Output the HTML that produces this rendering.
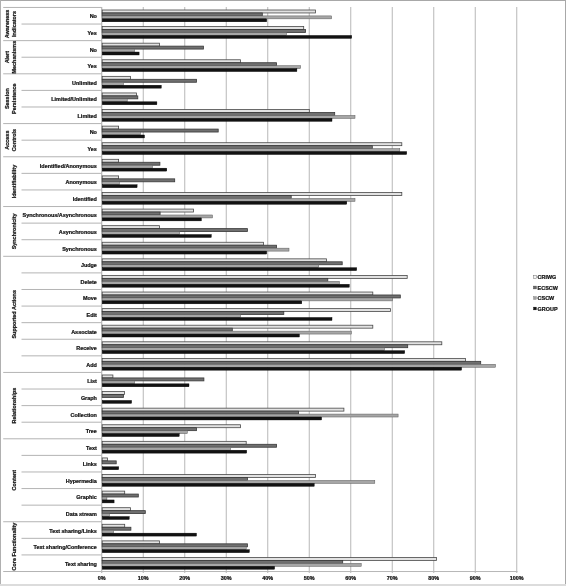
<!DOCTYPE html>
<html><head><meta charset="utf-8"><title>Chart</title>
<style>html,body{margin:0;padding:0;background:#fff;width:566px;height:586px;overflow:hidden}svg{display:block}</style>
</head><body>
<svg width="566" height="586" viewBox="0 0 566 586">
<rect width="566" height="586" fill="#fff"/>
<rect x="0" y="0" width="566" height="1" fill="#a8a8a8"/>
<rect x="0" y="0" width="1" height="586" fill="#b0b0b0"/>
<rect x="565" y="0" width="1" height="586" fill="#a8a8a8"/>
<rect x="0" y="584" width="566" height="2" fill="#dcdcdc"/>
<rect x="142.75" y="7" width="1" height="566" fill="#b8b8b8"/>
<rect x="184.25" y="7" width="1" height="566" fill="#b8b8b8"/>
<rect x="225.75" y="7" width="1" height="566" fill="#b8b8b8"/>
<rect x="267.25" y="7" width="1" height="566" fill="#b8b8b8"/>
<rect x="308.75" y="7" width="1" height="566" fill="#b8b8b8"/>
<rect x="350.25" y="7" width="1" height="566" fill="#b8b8b8"/>
<rect x="391.75" y="7" width="1" height="566" fill="#b8b8b8"/>
<rect x="433.25" y="7" width="1" height="566" fill="#b8b8b8"/>
<rect x="474.75" y="7" width="1" height="566" fill="#b8b8b8"/>
<rect x="516.25" y="7" width="1" height="566" fill="#b8b8b8"/>
<rect x="101.25" y="7" width="1" height="566" fill="#a8a8a8"/>
<rect x="3.2" y="6.95" width="98.3" height="1" fill="#b4b4b4"/>
<rect x="21.5" y="23.54" width="80" height="1" fill="#b4b4b4"/>
<rect x="3.2" y="40.13" width="98.3" height="1" fill="#b4b4b4"/>
<rect x="21.5" y="56.72" width="80" height="1" fill="#b4b4b4"/>
<rect x="3.2" y="73.31" width="98.3" height="1" fill="#b4b4b4"/>
<rect x="21.5" y="89.9" width="80" height="1" fill="#b4b4b4"/>
<rect x="21.5" y="106.49" width="80" height="1" fill="#b4b4b4"/>
<rect x="3.2" y="123.08" width="98.3" height="1" fill="#b4b4b4"/>
<rect x="21.5" y="139.67" width="80" height="1" fill="#b4b4b4"/>
<rect x="3.2" y="156.26" width="98.3" height="1" fill="#b4b4b4"/>
<rect x="21.5" y="172.85" width="80" height="1" fill="#b4b4b4"/>
<rect x="21.5" y="189.44" width="80" height="1" fill="#b4b4b4"/>
<rect x="3.2" y="206.03" width="98.3" height="1" fill="#b4b4b4"/>
<rect x="21.5" y="222.62" width="80" height="1" fill="#b4b4b4"/>
<rect x="21.5" y="239.21" width="80" height="1" fill="#b4b4b4"/>
<rect x="3.2" y="255.8" width="98.3" height="1" fill="#b4b4b4"/>
<rect x="21.5" y="272.39" width="80" height="1" fill="#b4b4b4"/>
<rect x="21.5" y="288.98" width="80" height="1" fill="#b4b4b4"/>
<rect x="21.5" y="305.57" width="80" height="1" fill="#b4b4b4"/>
<rect x="21.5" y="322.16" width="80" height="1" fill="#b4b4b4"/>
<rect x="21.5" y="338.75" width="80" height="1" fill="#b4b4b4"/>
<rect x="21.5" y="355.34" width="80" height="1" fill="#b4b4b4"/>
<rect x="3.2" y="371.93" width="98.3" height="1" fill="#b4b4b4"/>
<rect x="21.5" y="388.52" width="80" height="1" fill="#b4b4b4"/>
<rect x="21.5" y="405.11" width="80" height="1" fill="#b4b4b4"/>
<rect x="21.5" y="421.7" width="80" height="1" fill="#b4b4b4"/>
<rect x="3.2" y="438.29" width="98.3" height="1" fill="#b4b4b4"/>
<rect x="21.5" y="454.88" width="80" height="1" fill="#b4b4b4"/>
<rect x="21.5" y="471.47" width="80" height="1" fill="#b4b4b4"/>
<rect x="21.5" y="488.06" width="80" height="1" fill="#b4b4b4"/>
<rect x="21.5" y="504.65" width="80" height="1" fill="#b4b4b4"/>
<rect x="3.2" y="521.24" width="98.3" height="1" fill="#b4b4b4"/>
<rect x="21.5" y="537.83" width="80" height="1" fill="#b4b4b4"/>
<rect x="21.5" y="554.42" width="80" height="1" fill="#b4b4b4"/>
<rect x="3.2" y="571.01" width="98.3" height="1" fill="#b4b4b4"/>
<rect x="101" y="571.01" width="416.5" height="1" fill="#b8b8b8"/>
<rect x="102.2" y="10" width="213.3" height="2.95" fill="#e2e2e2" stroke="#484848" stroke-width="0.8"/>
<rect x="102.2" y="12.95" width="160.1" height="2.95" fill="#707070" stroke="#383838" stroke-width="0.8"/>
<rect x="102.2" y="15.9" width="229.4" height="2.95" fill="#a6a6a6" stroke="#5a5a5a" stroke-width="0.5"/>
<rect x="102.2" y="18.85" width="164.5" height="2.95" fill="#121212" stroke="#000" stroke-width="0.4"/>
<rect x="102.2" y="26.59" width="201.5" height="2.95" fill="#e2e2e2" stroke="#484848" stroke-width="0.8"/>
<rect x="102.2" y="29.54" width="203.4" height="2.95" fill="#707070" stroke="#383838" stroke-width="0.8"/>
<rect x="102.2" y="32.49" width="184.3" height="2.95" fill="#a6a6a6" stroke="#5a5a5a" stroke-width="0.5"/>
<rect x="102.2" y="35.44" width="249.5" height="2.95" fill="#121212" stroke="#000" stroke-width="0.4"/>
<rect x="102.2" y="43.18" width="57.2" height="2.95" fill="#e2e2e2" stroke="#484848" stroke-width="0.8"/>
<rect x="102.2" y="46.13" width="101.2" height="2.95" fill="#707070" stroke="#383838" stroke-width="0.8"/>
<rect x="102.2" y="49.08" width="32.4" height="2.95" fill="#a6a6a6" stroke="#5a5a5a" stroke-width="0.5"/>
<rect x="102.2" y="52.03" width="36.9" height="2.95" fill="#121212" stroke="#000" stroke-width="0.4"/>
<rect x="102.2" y="59.77" width="138.3" height="2.95" fill="#e2e2e2" stroke="#484848" stroke-width="0.8"/>
<rect x="102.2" y="62.72" width="174.4" height="2.95" fill="#707070" stroke="#383838" stroke-width="0.8"/>
<rect x="102.2" y="65.67" width="198.4" height="2.95" fill="#a6a6a6" stroke="#5a5a5a" stroke-width="0.5"/>
<rect x="102.2" y="68.62" width="194.7" height="2.95" fill="#121212" stroke="#000" stroke-width="0.4"/>
<rect x="102.2" y="76.36" width="28.2" height="2.95" fill="#e2e2e2" stroke="#484848" stroke-width="0.8"/>
<rect x="102.2" y="79.31" width="94.3" height="2.95" fill="#707070" stroke="#383838" stroke-width="0.8"/>
<rect x="102.2" y="82.26" width="21.3" height="2.95" fill="#a6a6a6" stroke="#5a5a5a" stroke-width="0.5"/>
<rect x="102.2" y="85.21" width="59.1" height="2.95" fill="#121212" stroke="#000" stroke-width="0.4"/>
<rect x="102.2" y="92.95" width="34.2" height="2.95" fill="#e2e2e2" stroke="#484848" stroke-width="0.8"/>
<rect x="102.2" y="95.9" width="35.6" height="2.95" fill="#707070" stroke="#383838" stroke-width="0.8"/>
<rect x="102.2" y="98.85" width="25" height="2.95" fill="#a6a6a6" stroke="#5a5a5a" stroke-width="0.5"/>
<rect x="102.2" y="101.8" width="54.7" height="2.95" fill="#121212" stroke="#000" stroke-width="0.4"/>
<rect x="102.2" y="109.54" width="207.1" height="2.95" fill="#e2e2e2" stroke="#484848" stroke-width="0.8"/>
<rect x="102.2" y="112.49" width="232.5" height="2.95" fill="#707070" stroke="#383838" stroke-width="0.8"/>
<rect x="102.2" y="115.44" width="252.8" height="2.95" fill="#a6a6a6" stroke="#5a5a5a" stroke-width="0.5"/>
<rect x="102.2" y="118.39" width="229.8" height="2.95" fill="#121212" stroke="#000" stroke-width="0.4"/>
<rect x="102.2" y="126.13" width="16.4" height="2.95" fill="#e2e2e2" stroke="#484848" stroke-width="0.8"/>
<rect x="102.2" y="129.08" width="116" height="2.95" fill="#707070" stroke="#383838" stroke-width="0.8"/>
<rect x="102.2" y="132.03" width="38.1" height="2.95" fill="#a6a6a6" stroke="#5a5a5a" stroke-width="0.5"/>
<rect x="102.2" y="134.98" width="42.3" height="2.95" fill="#121212" stroke="#000" stroke-width="0.4"/>
<rect x="102.2" y="142.72" width="299.6" height="2.95" fill="#e2e2e2" stroke="#484848" stroke-width="0.8"/>
<rect x="102.2" y="145.67" width="270.1" height="2.95" fill="#707070" stroke="#383838" stroke-width="0.8"/>
<rect x="102.2" y="148.62" width="297.6" height="2.95" fill="#a6a6a6" stroke="#5a5a5a" stroke-width="0.5"/>
<rect x="102.2" y="151.57" width="304.5" height="2.95" fill="#121212" stroke="#000" stroke-width="0.4"/>
<rect x="102.2" y="159.31" width="16.4" height="2.95" fill="#e2e2e2" stroke="#484848" stroke-width="0.8"/>
<rect x="102.2" y="162.26" width="57.7" height="2.95" fill="#707070" stroke="#383838" stroke-width="0.8"/>
<rect x="102.2" y="165.21" width="50.2" height="2.95" fill="#a6a6a6" stroke="#5a5a5a" stroke-width="0.5"/>
<rect x="102.2" y="168.16" width="64.6" height="2.95" fill="#121212" stroke="#000" stroke-width="0.4"/>
<rect x="102.2" y="175.9" width="16.4" height="2.95" fill="#e2e2e2" stroke="#484848" stroke-width="0.8"/>
<rect x="102.2" y="178.85" width="72.5" height="2.95" fill="#707070" stroke="#383838" stroke-width="0.8"/>
<rect x="102.2" y="181.8" width="17.1" height="2.95" fill="#a6a6a6" stroke="#5a5a5a" stroke-width="0.5"/>
<rect x="102.2" y="184.75" width="34.9" height="2.95" fill="#121212" stroke="#000" stroke-width="0.4"/>
<rect x="102.2" y="192.49" width="299.6" height="2.95" fill="#e2e2e2" stroke="#484848" stroke-width="0.8"/>
<rect x="102.2" y="195.44" width="189" height="2.95" fill="#707070" stroke="#383838" stroke-width="0.8"/>
<rect x="102.2" y="198.39" width="252.8" height="2.95" fill="#a6a6a6" stroke="#5a5a5a" stroke-width="0.5"/>
<rect x="102.2" y="201.34" width="244.6" height="2.95" fill="#121212" stroke="#000" stroke-width="0.4"/>
<rect x="102.2" y="209.08" width="91.3" height="2.95" fill="#e2e2e2" stroke="#484848" stroke-width="0.8"/>
<rect x="102.2" y="212.03" width="57.9" height="2.95" fill="#707070" stroke="#383838" stroke-width="0.8"/>
<rect x="102.2" y="214.98" width="110.3" height="2.95" fill="#a6a6a6" stroke="#5a5a5a" stroke-width="0.5"/>
<rect x="102.2" y="217.93" width="99.2" height="2.95" fill="#121212" stroke="#000" stroke-width="0.4"/>
<rect x="102.2" y="225.67" width="57.2" height="2.95" fill="#e2e2e2" stroke="#484848" stroke-width="0.8"/>
<rect x="102.2" y="228.62" width="145.2" height="2.95" fill="#707070" stroke="#383838" stroke-width="0.8"/>
<rect x="102.2" y="231.57" width="77.4" height="2.95" fill="#a6a6a6" stroke="#5a5a5a" stroke-width="0.5"/>
<rect x="102.2" y="234.52" width="109.1" height="2.95" fill="#121212" stroke="#000" stroke-width="0.4"/>
<rect x="102.2" y="242.26" width="161.3" height="2.95" fill="#e2e2e2" stroke="#484848" stroke-width="0.8"/>
<rect x="102.2" y="245.21" width="174.4" height="2.95" fill="#707070" stroke="#383838" stroke-width="0.8"/>
<rect x="102.2" y="248.16" width="186.8" height="2.95" fill="#a6a6a6" stroke="#5a5a5a" stroke-width="0.5"/>
<rect x="102.2" y="251.11" width="164.5" height="2.95" fill="#121212" stroke="#000" stroke-width="0.4"/>
<rect x="102.2" y="258.85" width="224.4" height="2.95" fill="#e2e2e2" stroke="#484848" stroke-width="0.8"/>
<rect x="102.2" y="261.8" width="240" height="2.95" fill="#707070" stroke="#383838" stroke-width="0.8"/>
<rect x="102.2" y="264.75" width="216.5" height="2.95" fill="#a6a6a6" stroke="#5a5a5a" stroke-width="0.5"/>
<rect x="102.2" y="267.7" width="254.5" height="2.95" fill="#121212" stroke="#000" stroke-width="0.4"/>
<rect x="102.2" y="275.44" width="305" height="2.95" fill="#e2e2e2" stroke="#484848" stroke-width="0.8"/>
<rect x="102.2" y="278.39" width="225.6" height="2.95" fill="#707070" stroke="#383838" stroke-width="0.8"/>
<rect x="102.2" y="281.34" width="237.2" height="2.95" fill="#a6a6a6" stroke="#5a5a5a" stroke-width="0.5"/>
<rect x="102.2" y="284.29" width="247.1" height="2.95" fill="#121212" stroke="#000" stroke-width="0.4"/>
<rect x="102.2" y="292.03" width="270.6" height="2.95" fill="#e2e2e2" stroke="#484848" stroke-width="0.8"/>
<rect x="102.2" y="294.98" width="298.1" height="2.95" fill="#707070" stroke="#383838" stroke-width="0.8"/>
<rect x="102.2" y="297.93" width="290.2" height="2.95" fill="#a6a6a6" stroke="#5a5a5a" stroke-width="0.5"/>
<rect x="102.2" y="300.88" width="199.6" height="2.95" fill="#121212" stroke="#000" stroke-width="0.4"/>
<rect x="102.2" y="308.62" width="288.2" height="2.95" fill="#e2e2e2" stroke="#484848" stroke-width="0.8"/>
<rect x="102.2" y="311.57" width="181.6" height="2.95" fill="#707070" stroke="#383838" stroke-width="0.8"/>
<rect x="102.2" y="314.52" width="138.3" height="2.95" fill="#a6a6a6" stroke="#5a5a5a" stroke-width="0.5"/>
<rect x="102.2" y="317.47" width="229.8" height="2.95" fill="#121212" stroke="#000" stroke-width="0.4"/>
<rect x="102.2" y="325.21" width="270.6" height="2.95" fill="#e2e2e2" stroke="#484848" stroke-width="0.8"/>
<rect x="102.2" y="328.16" width="130.1" height="2.95" fill="#707070" stroke="#383838" stroke-width="0.8"/>
<rect x="102.2" y="331.11" width="249.1" height="2.95" fill="#a6a6a6" stroke="#5a5a5a" stroke-width="0.5"/>
<rect x="102.2" y="334.06" width="197.2" height="2.95" fill="#121212" stroke="#000" stroke-width="0.4"/>
<rect x="102.2" y="341.8" width="339.6" height="2.95" fill="#e2e2e2" stroke="#484848" stroke-width="0.8"/>
<rect x="102.2" y="344.75" width="305.5" height="2.95" fill="#707070" stroke="#383838" stroke-width="0.8"/>
<rect x="102.2" y="347.7" width="282.3" height="2.95" fill="#a6a6a6" stroke="#5a5a5a" stroke-width="0.5"/>
<rect x="102.2" y="350.65" width="302.5" height="2.95" fill="#121212" stroke="#000" stroke-width="0.4"/>
<rect x="102.2" y="358.39" width="363.2" height="2.95" fill="#e2e2e2" stroke="#484848" stroke-width="0.8"/>
<rect x="102.2" y="361.34" width="378.5" height="2.95" fill="#707070" stroke="#383838" stroke-width="0.8"/>
<rect x="102.2" y="364.29" width="393.3" height="2.95" fill="#a6a6a6" stroke="#5a5a5a" stroke-width="0.5"/>
<rect x="102.2" y="367.24" width="359.4" height="2.95" fill="#121212" stroke="#000" stroke-width="0.4"/>
<rect x="102.2" y="374.98" width="10.7" height="2.95" fill="#e2e2e2" stroke="#484848" stroke-width="0.8"/>
<rect x="102.2" y="377.93" width="101.7" height="2.95" fill="#707070" stroke="#383838" stroke-width="0.8"/>
<rect x="102.2" y="380.88" width="32.4" height="2.95" fill="#a6a6a6" stroke="#5a5a5a" stroke-width="0.5"/>
<rect x="102.2" y="383.83" width="86.8" height="2.95" fill="#121212" stroke="#000" stroke-width="0.4"/>
<rect x="102.2" y="391.57" width="22.2" height="2.95" fill="#e2e2e2" stroke="#484848" stroke-width="0.8"/>
<rect x="102.2" y="394.52" width="21.3" height="2.95" fill="#707070" stroke="#383838" stroke-width="0.8"/>
<rect x="102.2" y="400.42" width="29.4" height="2.95" fill="#121212" stroke="#000" stroke-width="0.4"/>
<rect x="102.2" y="408.16" width="241.7" height="2.95" fill="#e2e2e2" stroke="#484848" stroke-width="0.8"/>
<rect x="102.2" y="411.11" width="196.4" height="2.95" fill="#707070" stroke="#383838" stroke-width="0.8"/>
<rect x="102.2" y="414.06" width="295.9" height="2.95" fill="#a6a6a6" stroke="#5a5a5a" stroke-width="0.5"/>
<rect x="102.2" y="417.01" width="219.4" height="2.95" fill="#121212" stroke="#000" stroke-width="0.4"/>
<rect x="102.2" y="424.75" width="138.3" height="2.95" fill="#e2e2e2" stroke="#484848" stroke-width="0.8"/>
<rect x="102.2" y="427.7" width="94.3" height="2.95" fill="#707070" stroke="#383838" stroke-width="0.8"/>
<rect x="102.2" y="430.65" width="85.1" height="2.95" fill="#a6a6a6" stroke="#5a5a5a" stroke-width="0.5"/>
<rect x="102.2" y="433.6" width="77" height="2.95" fill="#121212" stroke="#000" stroke-width="0.4"/>
<rect x="102.2" y="441.34" width="144" height="2.95" fill="#e2e2e2" stroke="#484848" stroke-width="0.8"/>
<rect x="102.2" y="444.29" width="174.4" height="2.95" fill="#707070" stroke="#383838" stroke-width="0.8"/>
<rect x="102.2" y="447.24" width="128.4" height="2.95" fill="#a6a6a6" stroke="#5a5a5a" stroke-width="0.5"/>
<rect x="102.2" y="450.19" width="144.5" height="2.95" fill="#121212" stroke="#000" stroke-width="0.4"/>
<rect x="102.2" y="457.93" width="5.2" height="2.95" fill="#e2e2e2" stroke="#484848" stroke-width="0.8"/>
<rect x="102.2" y="460.88" width="14" height="2.95" fill="#707070" stroke="#383838" stroke-width="0.8"/>
<rect x="102.2" y="466.78" width="16.5" height="2.95" fill="#121212" stroke="#000" stroke-width="0.4"/>
<rect x="102.2" y="474.52" width="213.2" height="2.95" fill="#e2e2e2" stroke="#484848" stroke-width="0.8"/>
<rect x="102.2" y="477.47" width="145.2" height="2.95" fill="#707070" stroke="#383838" stroke-width="0.8"/>
<rect x="102.2" y="480.42" width="272.6" height="2.95" fill="#a6a6a6" stroke="#5a5a5a" stroke-width="0.5"/>
<rect x="102.2" y="483.37" width="212" height="2.95" fill="#121212" stroke="#000" stroke-width="0.4"/>
<rect x="102.2" y="491.11" width="22.5" height="2.95" fill="#e2e2e2" stroke="#484848" stroke-width="0.8"/>
<rect x="102.2" y="494.06" width="36.1" height="2.95" fill="#707070" stroke="#383838" stroke-width="0.8"/>
<rect x="102.2" y="497.01" width="4.7" height="2.95" fill="#a6a6a6" stroke="#5a5a5a" stroke-width="0.5"/>
<rect x="102.2" y="499.96" width="11.9" height="2.95" fill="#121212" stroke="#000" stroke-width="0.4"/>
<rect x="102.2" y="507.7" width="28.2" height="2.95" fill="#e2e2e2" stroke="#484848" stroke-width="0.8"/>
<rect x="102.2" y="510.65" width="43.1" height="2.95" fill="#707070" stroke="#383838" stroke-width="0.8"/>
<rect x="102.2" y="513.6" width="7.2" height="2.95" fill="#a6a6a6" stroke="#5a5a5a" stroke-width="0.5"/>
<rect x="102.2" y="516.55" width="27" height="2.95" fill="#121212" stroke="#000" stroke-width="0.4"/>
<rect x="102.2" y="524.29" width="22.5" height="2.95" fill="#e2e2e2" stroke="#484848" stroke-width="0.8"/>
<rect x="102.2" y="527.24" width="28.7" height="2.95" fill="#707070" stroke="#383838" stroke-width="0.8"/>
<rect x="102.2" y="530.19" width="11.4" height="2.95" fill="#a6a6a6" stroke="#5a5a5a" stroke-width="0.5"/>
<rect x="102.2" y="533.14" width="94.3" height="2.95" fill="#121212" stroke="#000" stroke-width="0.4"/>
<rect x="102.2" y="540.88" width="57.2" height="2.95" fill="#e2e2e2" stroke="#484848" stroke-width="0.8"/>
<rect x="102.2" y="543.83" width="145.2" height="2.95" fill="#707070" stroke="#383838" stroke-width="0.8"/>
<rect x="102.2" y="546.78" width="144" height="2.95" fill="#a6a6a6" stroke="#5a5a5a" stroke-width="0.5"/>
<rect x="102.2" y="549.73" width="147.2" height="2.95" fill="#121212" stroke="#000" stroke-width="0.4"/>
<rect x="102.2" y="557.47" width="334.2" height="2.95" fill="#e2e2e2" stroke="#484848" stroke-width="0.8"/>
<rect x="102.2" y="560.42" width="240.5" height="2.95" fill="#707070" stroke="#383838" stroke-width="0.8"/>
<rect x="102.2" y="563.37" width="259" height="2.95" fill="#a6a6a6" stroke="#5a5a5a" stroke-width="0.5"/>
<rect x="102.2" y="566.32" width="172.4" height="2.95" fill="#121212" stroke="#000" stroke-width="0.4"/>
<g font-family="Liberation Sans, Arial, sans-serif" font-weight="bold" font-size="5.45" fill="#151515" stroke="#151515" stroke-width="0.24">
<text x="96.9" y="18.34" text-anchor="end">No</text>
<text x="96.9" y="34.94" text-anchor="end">Yes</text>
<text x="96.9" y="51.52" text-anchor="end">No</text>
<text x="96.9" y="68.11" text-anchor="end">Yes</text>
<text x="96.9" y="84.71" text-anchor="end">Unlimited</text>
<text x="96.9" y="101.3" text-anchor="end">Limited/Unlimited</text>
<text x="96.9" y="117.89" text-anchor="end">Limited</text>
<text x="96.9" y="134.47" text-anchor="end">No</text>
<text x="96.9" y="151.06" text-anchor="end">Yes</text>
<text x="96.9" y="167.66" text-anchor="end">Identified/Anonymous</text>
<text x="96.9" y="184.25" text-anchor="end">Anonymous</text>
<text x="96.9" y="200.84" text-anchor="end">Identified</text>
<text x="96.9" y="217.42" text-anchor="end">Synchronous/Asynchronous</text>
<text x="96.9" y="234.01" text-anchor="end">Asynchronous</text>
<text x="96.9" y="250.6" text-anchor="end">Synchronous</text>
<text x="96.9" y="267.19" text-anchor="end">Judge</text>
<text x="96.9" y="283.78" text-anchor="end">Delete</text>
<text x="96.9" y="300.37" text-anchor="end">Move</text>
<text x="96.9" y="316.96" text-anchor="end">Edit</text>
<text x="96.9" y="333.55" text-anchor="end">Associate</text>
<text x="96.9" y="350.14" text-anchor="end">Receive</text>
<text x="96.9" y="366.73" text-anchor="end">Add</text>
<text x="96.9" y="383.32" text-anchor="end">List</text>
<text x="96.9" y="399.91" text-anchor="end">Graph</text>
<text x="96.9" y="416.5" text-anchor="end">Collection</text>
<text x="96.9" y="433.09" text-anchor="end">Tree</text>
<text x="96.9" y="449.68" text-anchor="end">Text</text>
<text x="96.9" y="466.27" text-anchor="end">Links</text>
<text x="96.9" y="482.86" text-anchor="end">Hypermedia</text>
<text x="96.9" y="499.45" text-anchor="end">Graphic</text>
<text x="96.9" y="516.04" text-anchor="end">Data stream</text>
<text x="96.9" y="532.63" text-anchor="end">Text sharing/Links</text>
<text x="96.9" y="549.22" text-anchor="end">Text sharing/Conference</text>
<text x="96.9" y="565.81" text-anchor="end">Text sharing</text>
<text x="9.4" y="23.99" text-anchor="middle" transform="rotate(-90 9.4 23.99)">Awareness</text>
<text x="15.85" y="23.99" text-anchor="middle" transform="rotate(-90 15.85 23.99)">Indicators</text>
<text x="9.4" y="57.17" text-anchor="middle" transform="rotate(-90 9.4 57.17)">Alert</text>
<text x="15.85" y="57.17" text-anchor="middle" transform="rotate(-90 15.85 57.17)">Mechanisms</text>
<text x="9.4" y="98.65" text-anchor="middle" transform="rotate(-90 9.4 98.65)">Session</text>
<text x="15.85" y="98.65" text-anchor="middle" transform="rotate(-90 15.85 98.65)">Persistence</text>
<text x="9.4" y="140.12" text-anchor="middle" transform="rotate(-90 9.4 140.12)">Access</text>
<text x="15.85" y="140.12" text-anchor="middle" transform="rotate(-90 15.85 140.12)">Controls</text>
<text x="15.9" y="181.59" text-anchor="middle" transform="rotate(-90 15.9 181.59)">Identifiability</text>
<text x="15.9" y="231.37" text-anchor="middle" transform="rotate(-90 15.9 231.37)">Synchronicity</text>
<text x="15.9" y="314.31" text-anchor="middle" transform="rotate(-90 15.9 314.31)">Supported Actions</text>
<text x="15.9" y="405.56" text-anchor="middle" transform="rotate(-90 15.9 405.56)">Relationships</text>
<text x="15.9" y="480.21" text-anchor="middle" transform="rotate(-90 15.9 480.21)">Content</text>
<text x="15.9" y="546.57" text-anchor="middle" transform="rotate(-90 15.9 546.57)">Core Functionality</text>
<text x="101.75" y="580" text-anchor="middle">0%</text>
<text x="143.25" y="580" text-anchor="middle">10%</text>
<text x="184.75" y="580" text-anchor="middle">20%</text>
<text x="226.25" y="580" text-anchor="middle">30%</text>
<text x="267.75" y="580" text-anchor="middle">40%</text>
<text x="309.25" y="580" text-anchor="middle">50%</text>
<text x="350.75" y="580" text-anchor="middle">60%</text>
<text x="392.25" y="580" text-anchor="middle">70%</text>
<text x="433.75" y="580" text-anchor="middle">80%</text>
<text x="475.25" y="580" text-anchor="middle">90%</text>
<text x="516.75" y="580" text-anchor="middle">100%</text>
<rect x="533.6" y="275.65" width="2.7" height="2.7" fill="#f4f4f4" stroke="#707070" stroke-width="0.5"/>
<text x="537.6" y="279.4">CRIWG</text>
<rect x="533.6" y="286.15" width="2.7" height="2.7" fill="#6a6a6a" stroke="#404040" stroke-width="0.5"/>
<text x="537.6" y="289.9">ECSCW</text>
<rect x="533.6" y="296.65" width="2.7" height="2.7" fill="#a0a0a0" stroke="#707070" stroke-width="0.4"/>
<text x="537.6" y="300.4">CSCW</text>
<rect x="533.6" y="307.15" width="2.7" height="2.7" fill="#111" stroke="#000" stroke-width="0.4"/>
<text x="537.6" y="310.9">GROUP</text>
</g>
</svg>
</body></html>
